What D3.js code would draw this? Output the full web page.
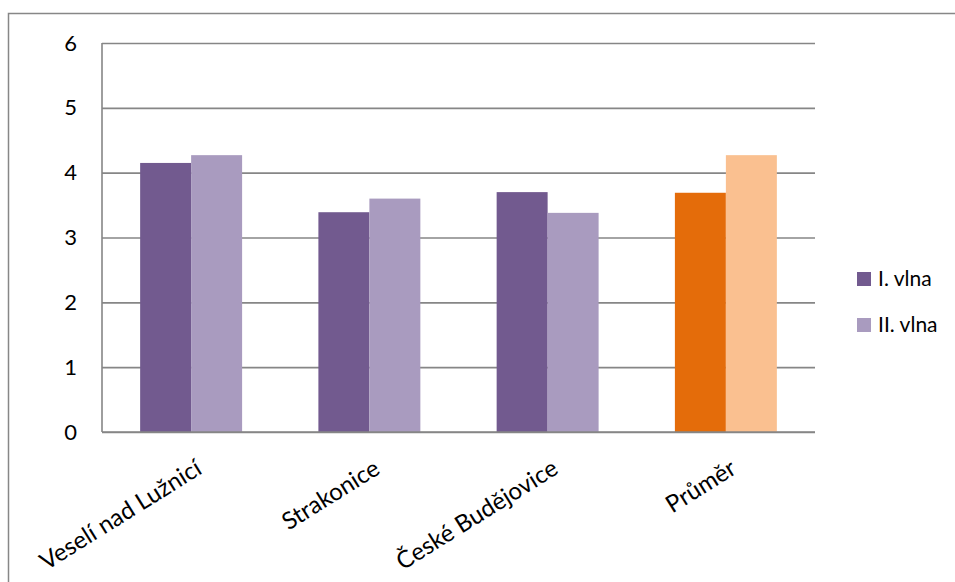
<!DOCTYPE html>
<html>
<head>
<meta charset="utf-8">
<script src="https://cdn.jsdelivr.net/npm/d3@7"></script>
<style>
  body { margin: 0; background: #fff; }
  svg { font-family: Lato, "Noto Sans", sans-serif; }
</style>
</head>
<body>
<div id="chart"></div>
<script>
// data
const categories = ["Veselí nad Lužnicí", "Strakonice", "České Budějovice", "Průměr"];
const seriesNames = ["I. vlna", "II. vlna"];
const wave1 = [4.15, 3.39, 3.70, 3.69];
const wave2 = [4.27, 3.60, 3.38, 4.27];
const yTicks = [0, 1, 2, 3, 4, 5, 6];

// colours: purple for towns, orange for the average
const townColors = ["#725a8f", "#a99bbf"];
const avgColors = ["#e46c0a", "#fac090"];

const W = 955, H = 582;
const margin = { top: 43, right: 140, bottom: 150, left: 102 };
const plotW = W - margin.left - margin.right;
const plotH = H - margin.top - margin.bottom;

const svg = d3.select("#chart")
    .append("svg")
    .attr("width", W)
    .attr("height", H);

// outer chart border (runs off right and bottom edge)
svg.append("rect")
    .attr("x", 8.5)
    .attr("y", 13.5)
    .attr("width", 980)
    .attr("height", 600)
    .attr("fill", "none")
    .attr("stroke", "#878787")
    .attr("stroke-width", 1.5);

const g = svg.append("g")
    .attr("transform", `translate(${margin.left}, ${margin.top})`);

const x0 = d3.scaleBand()
    .domain(categories)
    .range([0, plotW]);

const step = x0.step();
const x1 = d3.scaleBand()
    .domain(seriesNames)
    .range([step * 0.214, step * 0.786]);

const y = d3.scaleLinear()
    .domain([0, 6])
    .range([plotH, 0]);

// grid + y labels
const yAxis = g.append("g")
    .call(d3.axisLeft(y).tickValues(yTicks).tickFormat(d3.format("d")).tickSize(-plotW).tickPadding(25));
yAxis.select(".domain").remove();
yAxis.selectAll("line")
    .attr("stroke", "#868686")
    .attr("stroke-width", 1.6);
yAxis.selectAll("text")
    .attr("fill", "#000")
    .style("font-size", "22px")
    .style("font-family", "Lato, sans-serif");

// left axis line
g.append("line")
    .attr("x1", 0).attr("x2", 0)
    .attr("y1", 0).attr("y2", plotH)
    .attr("stroke", "#868686")
    .attr("stroke-width", 1.6);

// bars
const rows = categories.map((c, i) => ({ cat: c, vals: [wave1[i], wave2[i]] }));
rows.forEach((row, i) => {
    const cols = row.cat === "Průměr" ? avgColors : townColors;
    seriesNames.forEach((s, j) => {
        g.append("rect")
            .attr("x", x0(row.cat) + x1(s))
            .attr("y", y(row.vals[j]))
            .attr("width", x1.bandwidth())
            .attr("height", plotH - y(row.vals[j]))
            .attr("fill", cols[j]);
    });
});

// bottom axis line on top of bars
g.append("line")
    .attr("x1", 0).attr("x2", plotW)
    .attr("y1", plotH).attr("y2", plotH)
    .attr("stroke", "#868686")
    .attr("stroke-width", 1.6);

// rotated category labels
categories.forEach(c => {
    g.append("text")
        .attr("transform", `translate(${x0(c) + x0.bandwidth() / 2 + 3}, ${plotH + 26}) rotate(-32)`)
        .attr("text-anchor", "end")
        .attr("dy", "0.72em")
        .style("font-size", "24px")
        .text(c);
});

// legend
const legend = svg.append("g")
    .attr("transform", "translate(857, 272)");
seriesNames.forEach((s, i) => {
    const row = legend.append("g").attr("transform", `translate(0, ${i * 46})`);
    row.append("rect")
        .attr("width", 14)
        .attr("height", 14)
        .attr("fill", townColors[i]);
    row.append("text")
        .attr("x", 21)
        .attr("y", 7)
        .attr("dy", "0.35em")
        .style("font-size", "21px")
        .text(s);
});
</script>
</body>
</html>
